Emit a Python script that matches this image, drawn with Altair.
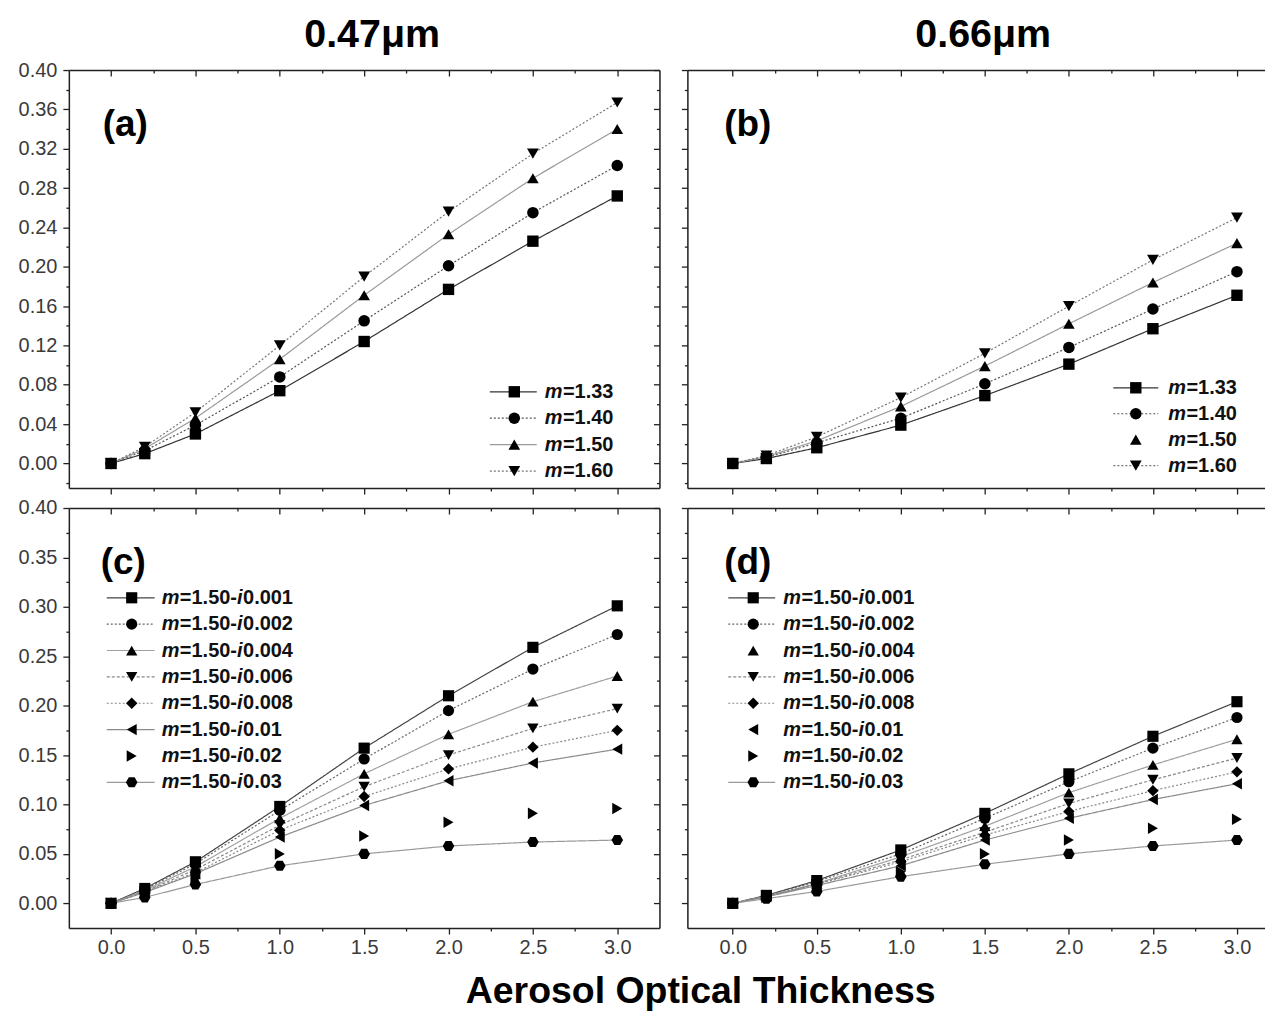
import altair as alt
import pandas as pd

FONT = "Liberation Sans"

x_vals = [0.0, 0.2, 0.5, 1.0, 1.5, 2.0, 2.5, 3.0]

# panel (a) 0.47um, real refractive index
a_labels = ["1.33", "1.40", "1.50", "1.60"]
a_133 = [0.0, 0.010, 0.030, 0.074, 0.124, 0.177, 0.226, 0.272]
a_140 = [0.0, 0.013, 0.039, 0.088, 0.145, 0.201, 0.255, 0.303]
a_150 = [0.0, 0.015, 0.046, 0.106, 0.171, 0.233, 0.290, 0.340]
a_160 = [0.0, 0.017, 0.052, 0.120, 0.190, 0.256, 0.315, 0.367]

# panel (b) 0.66um
b_133 = [0.0, 0.005, 0.016, 0.039, 0.069, 0.101, 0.137, 0.171]
b_140 = [0.0, 0.006, 0.021, 0.046, 0.081, 0.118, 0.157, 0.195]
b_150 = [0.0, 0.007, 0.023, 0.058, 0.099, 0.142, 0.184, 0.224]
b_160 = [0.0, 0.008, 0.027, 0.067, 0.112, 0.160, 0.207, 0.250]

# panel (c) 0.47um, imaginary part
c_labels = ["0.001", "0.002", "0.004", "0.006", "0.008", "0.01", "0.02", "0.03"]
c_0001 = [0.0, 0.015, 0.042, 0.098, 0.157, 0.210, 0.259, 0.301]
c_0002 = [0.0, 0.014, 0.040, 0.094, 0.146, 0.195, 0.237, 0.272]
c_0004 = [0.0, 0.013, 0.037, 0.086, 0.131, 0.171, 0.204, 0.230]
c_0006 = [0.0, 0.012, 0.034, 0.079, 0.118, 0.150, 0.177, 0.197]
c_0008 = [0.0, 0.012, 0.031, 0.074, 0.108, 0.136, 0.158, 0.175]
c_001 = [0.0, 0.011, 0.030, 0.067, 0.099, 0.124, 0.142, 0.156]
c_002 = [0.0, 0.009, 0.025, 0.050, 0.068, 0.082, 0.091, 0.096]
c_003 = [0.0, 0.006, 0.019, 0.038, 0.050, 0.058, 0.062, 0.064]

# panel (d) 0.66um
d_0001 = [0.0, 0.008, 0.023, 0.054, 0.091, 0.131, 0.169, 0.204]
d_0002 = [0.0, 0.0075, 0.022, 0.050, 0.086, 0.123, 0.157, 0.188]
d_0004 = [0.0, 0.007, 0.020, 0.047, 0.078, 0.112, 0.140, 0.166]
d_0006 = [0.0, 0.007, 0.0195, 0.044, 0.072, 0.101, 0.125, 0.147]
d_0008 = [0.0, 0.0068, 0.019, 0.042, 0.069, 0.093, 0.114, 0.133]
d_001 = [0.0, 0.0065, 0.018, 0.038, 0.064, 0.086, 0.105, 0.121]
d_002 = [0.0, 0.006, 0.015, 0.032, 0.050, 0.064, 0.076, 0.085]
d_003 = [0.0, 0.0047, 0.012, 0.027, 0.0395, 0.050, 0.058, 0.064]

x_major = [0.0, 0.5, 1.0, 1.5, 2.0, 2.5, 3.0]
x_minor = [0.25, 0.75, 1.25, 1.75, 2.25, 2.75]
y_major_top = [0.0, 0.04, 0.08, 0.12, 0.16, 0.20, 0.24, 0.28, 0.32, 0.36, 0.40]
y_minor_top = [-0.02, 0.02, 0.06, 0.10, 0.14, 0.18, 0.22, 0.26, 0.30, 0.34, 0.38]
y_major_bot = [0.0, 0.05, 0.10, 0.15, 0.20, 0.25, 0.30, 0.35, 0.40]
y_minor_bot = [0.025, 0.075, 0.125, 0.175, 0.225, 0.275, 0.325, 0.375]

# styles
hexagon = "M-1,0L-0.5,-0.866L0.5,-0.866L1,0L0.5,0.866L-0.5,0.866Z"
SOLID = [1, 0]
DOT = [2, 2]
DASH = [3, 2]
top_shapes = ["square", "circle", "triangle-up", "triangle-down"]
top_sizes = [130, 140, 200, 200]
top_colors = ["#333333", "#555555", "#9a9a9a", "#777777"]
top_dashes = [SOLID, DOT, SOLID, DOT]
bot_shapes = ["square", "circle", "triangle-up", "triangle-down", "diamond",
              "triangle-left", "triangle-right", hexagon]
bot_sizes = [125, 135, 190, 190, 165, 190, 190, 130]
bot_colors = ["#444444", "#666666", "#a0a0a0", "#888888", "#888888", "#8a8a8a", "#999999", "#9a9a9a"]
bot_dashes = [SOLID, DOT, SOLID, DASH, DOT, SOLID, SOLID, SOLID]

# character advance widths of Liberation Sans Bold (em units) for legend text layout
ADV = {"m": 0.889, "=": 0.584, "1": 0.556, ".": 0.278, "5": 0.556, "0": 0.556,
       "-": 0.333, "i": 0.278, "3": 0.556, "4": 0.556, "6": 0.556}
LEG_FS = 20


def tw(s, fs=LEG_FS):
    return sum(ADV[c] for c in s) * fs


def build_panel(labels, series, shapes, sizes, colors, dashes, has_line, leg_has_line,
                leg, letter, xdomain, width, height, ydomain,
                ymaj, ymin, show_ylabels, show_xlabels, complex_idx, right_frame,
                title=None, title_dx=0, title_offset=14):
    rows = []
    for lab, vals in zip(labels, series):
        for xv, yv in zip(x_vals, vals):
            rows.append({"x": xv, "y": yv, "series": lab})
    df = pd.DataFrame(rows)
    xs = alt.Scale(domain=xdomain, nice=False, zero=False)
    ys = alt.Scale(domain=ydomain, nice=False, zero=False)
    col = alt.Color("series:N", scale=alt.Scale(domain=labels, range=colors), legend=None)
    dsh = alt.StrokeDash("series:N", scale=alt.Scale(domain=labels, range=dashes), legend=None)
    shp = alt.Shape("series:N", scale=alt.Scale(domain=labels, range=shapes), legend=None)
    siz = alt.Size("series:N", scale=alt.Scale(domain=labels, range=sizes), legend=None)
    siz_leg = alt.Size("series:N", scale=alt.Scale(domain=labels, range=[s * 1.8 for s in sizes]),
                       legend=None)

    line_series = [l for l, h in zip(labels, has_line) if h]
    lines = alt.Chart(df).transform_filter(
        alt.FieldOneOfPredicate(field="series", oneOf=line_series)
    ).mark_line(strokeWidth=1.2).encode(
        x=alt.X("x:Q", scale=xs, axis=None),
        y=alt.Y("y:Q", scale=ys, axis=None),
        color=col, strokeDash=dsh, detail="series:N",
    )
    pts = alt.Chart(df).mark_point(filled=True, color="black", opacity=1).encode(
        x=alt.X("x:Q", scale=xs, axis=None),
        y=alt.Y("y:Q", scale=ys, axis=None),
        shape=shp, size=siz,
    )

    common = dict(grid=False, title=None, labelFont=FONT, labelFontSize=20,
                  labelColor="#3a3a3a", tickColor="#222222", tickWidth=1.3,
                  domainColor="#222222", domainWidth=1.5)

    def ax_layer(xaxis, yaxis):
        return alt.Chart(df).mark_point(opacity=0).encode(
            x=alt.X("x:Q", scale=xs, axis=xaxis),
            y=alt.Y("y:Q", scale=ys, axis=yaxis),
        )

    main_ax = ax_layer(
        alt.Axis(orient="bottom", values=x_major, format=".1f", labels=show_xlabels,
                 tickSize=6, labelPadding=4, domain=True, **common),
        alt.Axis(orient="left", values=ymaj, format=".2f", labels=show_ylabels,
                 tickSize=6, labelPadding=6, domain=True, **common),
    )
    minor_ax = ax_layer(
        alt.Axis(orient="bottom", values=x_minor, labels=False, tickSize=3, domain=False, **common),
        alt.Axis(orient="left", values=ymin, labels=False, tickSize=3, domain=False, **common),
    )
    top_ax = ax_layer(
        alt.Axis(orient="top", values=x_major, labels=False, tickSize=6, offset=-6,
                 domain=False, **common),
        alt.Axis(orient="right", values=ymaj, labels=False, tickSize=6, offset=-6,
                 domain=False, **common) if right_frame else None,
    )
    top_minor_ax = ax_layer(
        alt.Axis(orient="top", values=x_minor, labels=False, tickSize=3, offset=-3,
                 domain=False, **common),
        alt.Axis(orient="right", values=ymin, labels=False, tickSize=3, offset=-3,
                 domain=False, **common) if right_frame else None,
    )
    frame_ax = ax_layer(
        alt.Axis(orient="top", labels=False, ticks=False, domain=True, **common),
        alt.Axis(orient="right", labels=False, ticks=False, domain=True, **common) if right_frame else None,
    )

    letter_df = pd.DataFrame({"t": [letter]})
    letter_txt = alt.Chart(letter_df).mark_text(
        font=FONT, fontSize=37, fontWeight="bold", align="left", baseline="alphabetic", color="black"
    ).encode(x=alt.value(leg["lx"]), y=alt.value(leg["ly"]), text="t:N")

    # legend
    n = len(labels)
    ldf = pd.DataFrame({
        "row": list(range(n)),
        "series": labels,
        "line": leg_has_line,
    })
    if complex_idx:
        ldf["p2"] = ["=1.50-"] * n
        ldf["p4"] = labels
    else:
        ldf["p2"] = ["=" + l for l in labels]
    ry = alt.Y("row:Q", scale=alt.Scale(domain=[0, n - 1], range=[leg["r0"], leg["r1"]],
                                        nice=False, zero=False), axis=None)
    leg_rule = alt.Chart(ldf).transform_filter("datum.line").mark_rule(strokeWidth=1.2).encode(
        x=alt.value(leg["x1"]), x2=alt.value(leg["x2"]), y=ry, color=col, strokeDash=dsh)
    leg_pt = alt.Chart(ldf).mark_point(filled=True, color="black", opacity=1).encode(
        x=alt.value(leg["xs"]), y=ry, shape=shp, size=siz_leg)
    tx = leg["xt"]
    txt_kw = dict(font=FONT, fontSize=LEG_FS, fontWeight="bold", align="left",
                  baseline="middle", color="#111111")
    leg_m = alt.Chart(ldf).mark_text(fontStyle="italic", **txt_kw).encode(
        x=alt.value(tx), y=ry, text=alt.value("m"))
    leg_p2 = alt.Chart(ldf).mark_text(**txt_kw).encode(
        x=alt.value(tx + tw("m") + 0.5), y=ry, text="p2:N")
    layers = [lines, pts, main_ax, minor_ax, top_ax, top_minor_ax, frame_ax, letter_txt,
              leg_rule, leg_pt, leg_m, leg_p2]
    if complex_idx:
        x3 = tx + tw("m") + 0.5 + tw("=1.50-")
        leg_i = alt.Chart(ldf).mark_text(fontStyle="italic", **txt_kw).encode(
            x=alt.value(x3), y=ry, text=alt.value("i"))
        leg_p4 = alt.Chart(ldf).mark_text(**txt_kw).encode(
            x=alt.value(x3 + tw("i") + 0.5), y=ry, text="p4:N")
        layers += [leg_i, leg_p4]

    props = dict(width=width, height=height)
    if title:
        props["title"] = alt.TitleParams(title, font=FONT, fontSize=39.5, fontWeight="bold",
                                         anchor="middle", frame="group", offset=title_offset,
                                         dx=title_dx, color="black")
    return alt.layer(*layers).resolve_scale(x="independent", y="independent").resolve_axis(
        x="independent", y="independent").properties(**props)


W_L, W_R, H_T, H_B = 592, 593, 419, 421
XD_L = [-0.25, 3.25]
XD_R = [-0.27, 3.25]
YD = [-0.025, 0.40]

pa = build_panel(a_labels, [a_133, a_140, a_150, a_160], top_shapes, top_sizes, top_colors,
                 top_dashes, [True] * 4, [True] * 4,
                 dict(lx=34, ly=66, r0=322.5, r1=402, x1=422, x2=469, xs=446.5, xt=477),
                 "(a)", XD_L, W_L, H_T, YD, y_major_top, y_minor_top, True, False, False, True,
                 title="0.47\u03bcm", title_dx=8, title_offset=5)
pb = build_panel(a_labels, [b_133, b_140, b_150, b_160], top_shapes, top_sizes, top_colors,
                 top_dashes, [True] * 4, [True, True, False, True],
                 dict(lx=37, ly=66, r0=318.5, r1=396.5, x1=427, x2=472, xs=449.5, xt=482),
                 "(b)", XD_R, W_R, H_T, YD, y_major_top, y_minor_top, False, False, False, True,
                 title="0.66\u03bcm", title_dx=0, title_offset=14)
pc = build_panel(c_labels, [c_0001, c_0002, c_0004, c_0006, c_0008, c_001, c_002, c_003],
                 bot_shapes, bot_sizes, bot_colors, bot_dashes,
                 [True, True, True, True, True, True, False, True],
                 [True, True, True, True, True, True, False, True],
                 dict(lx=32, ly=66, r0=90, r1=275, x1=38, x2=86, xs=63, xt=93),
                 "(c)", XD_L, W_L, H_B, YD, y_major_bot, y_minor_bot, True, True, True, True)
pd_ = build_panel(c_labels, [d_0001, d_0002, d_0004, d_0006, d_0008, d_001, d_002, d_003],
                  bot_shapes, bot_sizes, bot_colors, bot_dashes,
                  [True, True, True, True, True, True, False, True],
                  [True, True, False, True, True, False, False, True],
                  dict(lx=37, ly=66, r0=90, r1=275, x1=41, x2=88, xs=66, xt=96),
                  "(d)", XD_R, W_R, H_B, YD, y_major_bot, y_minor_bot, False, True, True, True)

chart = alt.concat(pa, pb, pc, pd_, columns=2, bounds="flush",
                   spacing={"row": 20, "column": 28}).resolve_scale(
    color="independent", shape="independent", strokeDash="independent", size="independent"
).properties(
    title=alt.TitleParams("Aerosol Optical Thickness", orient="bottom", anchor="middle",
                          font=FONT, fontSize=37.5, fontWeight="bold", color="black",
                          offset=15, dx=52),
    padding={"left": 9, "top": 5, "right": -16, "bottom": 0},
).configure_view(stroke=None).configure(background="white")

chart.save("out.html", embed_options={"renderer": "svg", "actions": False})
